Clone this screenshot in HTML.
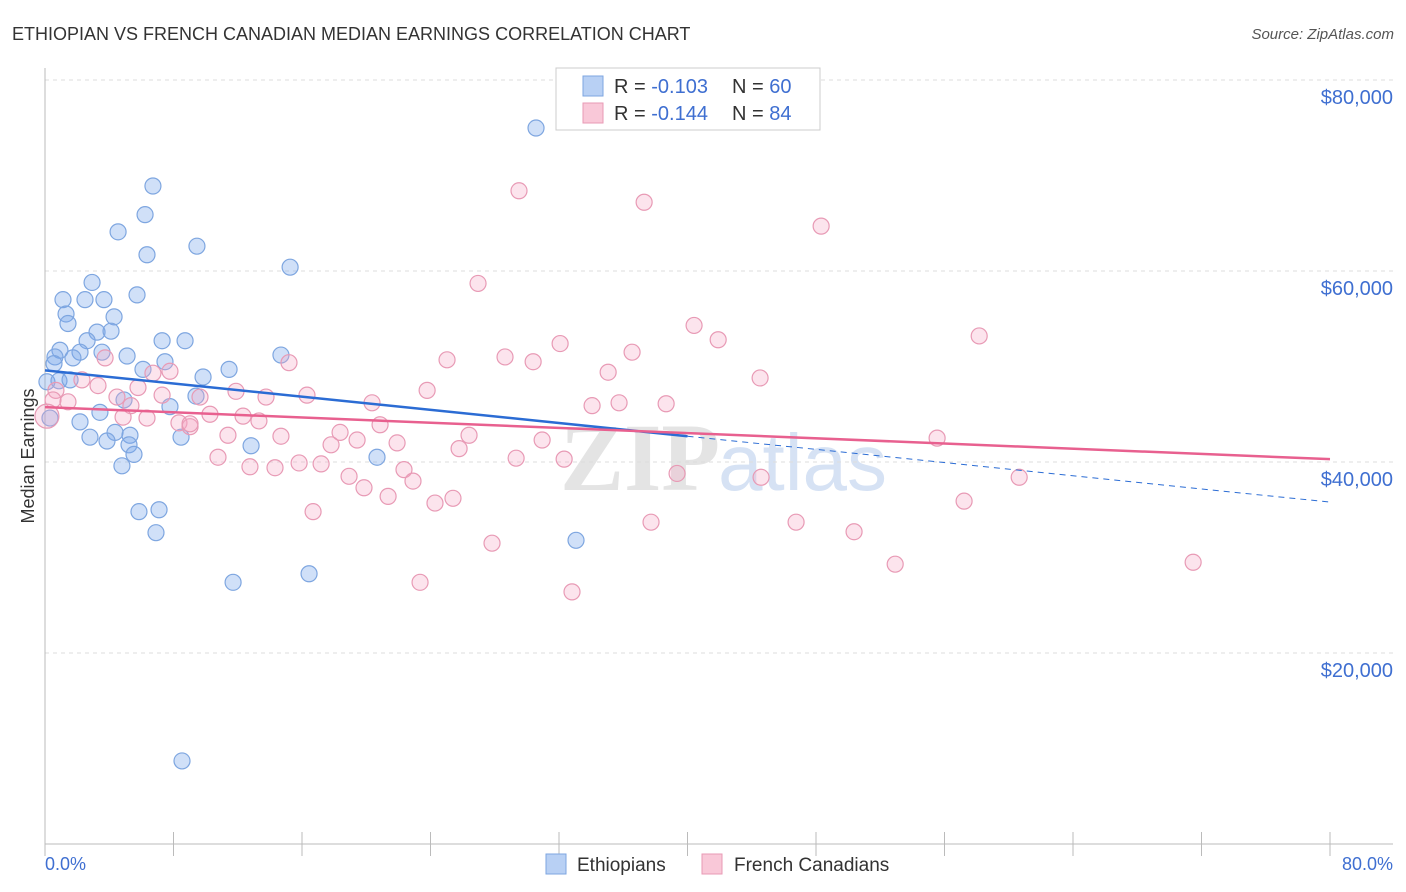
<!DOCTYPE html>
<html><head><meta charset="utf-8"><style>
body{margin:0;background:#fff;font-family:"Liberation Sans",sans-serif}
svg{display:block}
</style></head><body>
<svg id="chart" width="1406" height="892" xmlns="http://www.w3.org/2000/svg">
<text x="12" y="40" font-size="18" fill="#333">ETHIOPIAN VS FRENCH CANADIAN MEDIAN EARNINGS CORRELATION CHART</text>
<text x="1394" y="39" font-size="15" fill="#555" font-style="italic" text-anchor="end">Source: ZipAtlas.com</text>
<text x="720" y="490" font-size="96" font-weight="bold" fill="#e4e4e4" text-anchor="end" font-family="Liberation Serif, serif">ZIP</text>
<text x="718" y="490" font-size="80" fill="#d6e2f4">atlas</text>
<g id="grid"></g>
<g id="axes"></g>
<g id="pts"></g>
<g id="lines"></g>
<text transform="translate(34,456) rotate(-90)" font-size="18" fill="#333" text-anchor="middle">Median Earnings</text>
<text x="45" y="870" font-size="18" fill="#3f6fd1">0.0%</text>
<text x="1393" y="870" font-size="18" fill="#3f6fd1" text-anchor="end">80.0%</text>
<g>
<rect x="556" y="68" width="264" height="62" fill="#fff" stroke="#ccc"/>
<rect x="583" y="76" width="20" height="20" fill="#b8d0f4" stroke="#7ea6e0"/>
<rect x="583" y="103" width="20" height="20" fill="#f9c8d8" stroke="#e89ab5"/>
<text x="614" y="93" font-size="20" fill="#333">R = <tspan fill="#3f6fd1">-0.103</tspan></text>
<text x="732" y="93" font-size="20" fill="#333">N = <tspan fill="#3f6fd1">60</tspan></text>
<text x="614" y="120" font-size="20" fill="#333">R = <tspan fill="#3f6fd1">-0.144</tspan></text>
<text x="732" y="120" font-size="20" fill="#333">N = <tspan fill="#3f6fd1">84</tspan></text>
</g>
<g>
<rect x="546" y="854" width="20" height="20" fill="#b8d0f4" stroke="#7ea6e0"/>
<text x="577" y="871" font-size="19" fill="#333">Ethiopians</text>
<rect x="702" y="854" width="20" height="20" fill="#f9c8d8" stroke="#e89ab5"/>
<text x="734" y="871" font-size="19" fill="#333">French Canadians</text>
</g>
</svg>
<script>
const yTicks=[20000,40000,60000,80000];
const yTickLabels=["$20,000","$40,000","$60,000","$80,000"];
const xTicks=[0,8,16,24,32,40,48,56,64,72,80];
const ethX=[30.57,6.72,6.23,4.55,6.35,9.46,15.26,2.93,1.12,2.49,3.67,5.73,1.31,1.43,4.30,3.24,4.11,2.62,7.29,8.72,0.93,2.18,1.74,3.55,5.11,0.62,0.56,7.47,6.10,11.46,14.69,9.84,0.12,0.87,1.56,4.92,9.40,7.78,3.42,2.18,4.36,2.80,3.86,5.29,5.23,5.54,8.47,12.83,20.67,4.79,5.85,7.10,6.91,33.06,11.71,16.44,8.53,0.31];
const ethY=[74970,68900,65900,64100,61700,62600,60400,58800,57000,57000,57000,57500,55500,54500,55200,53600,53700,52700,52700,52700,51700,51500,50900,51500,51100,51000,50300,50500,49700,49700,51200,48900,48400,48500,48600,46500,46900,45800,45200,44200,43100,42600,42200,42800,41800,40800,42600,41700,40500,39600,34800,35000,32600,31800,27400,28300,8700,44600];
const frX=[29.51,37.30,48.32,26.96,40.41,58.16,41.91,32.07,36.55,28.64,30.39,25.03,35.06,44.52,15.19,3.74,6.72,7.78,2.30,3.30,0.68,5.79,11.89,13.76,16.31,23.79,7.29,9.65,0.50,1.43,4.48,5.35,20.36,34.06,35.74,38.67,4.86,6.35,8.34,10.27,12.33,13.32,9.03,11.39,14.69,20.86,18.37,17.81,19.43,21.92,26.40,30.95,25.78,55.54,10.77,12.76,14.32,15.82,17.19,22.35,29.33,32.32,39.35,18.93,19.86,22.91,21.36,24.28,25.40,44.58,60.65,57.22,16.69,37.73,46.76,50.37,27.83,52.93,71.48,23.35,32.81,0.12,9.03];
const frY=[68400,67200,64700,58700,54300,53200,52800,52400,51500,51000,50500,50700,49400,48800,50400,50900,49300,49500,48600,48000,47500,47800,47400,46800,47000,47500,47000,46800,46500,46300,46800,45900,46200,45900,46200,46100,44700,44600,44100,45000,44800,44300,43700,42800,42700,43900,43100,41800,42300,42000,42800,42300,41400,42500,40500,39500,39400,39900,39800,39200,40400,40300,38800,38500,37300,38000,36400,35700,36200,38400,38400,35900,34800,33700,33700,32700,31500,29300,29500,27400,26400,44800,44000];
const ethTrend=[49600,35800];
const frTrend=[45750,40300];
const ethMaxX=40;
const NS="http://www.w3.org/2000/svg";
const X0=45,X1=1330,Y0=844,Ypx=191/20000;
function sx(p){return X0+(p/80)*(X1-X0);}
function sy(v){return Y0-v*Ypx;}
function mk(tag,attrs,parent){const e=document.createElementNS(NS,tag);for(const k in attrs)e.setAttribute(k,attrs[k]);parent.appendChild(e);return e;}
const grid=document.getElementById('grid'),axes=document.getElementById('axes'),pts=document.getElementById('pts'),lines=document.getElementById('lines');
yTicks.forEach((t,i)=>{
 const l=mk('line',{x1:45,x2:1393,y1:sy(t),y2:sy(t),stroke:'#ddd','stroke-dasharray':'4 4'},grid);
 
 
 const tx=mk('text',{x:1393,y:sy(t)+24,'font-size':20,fill:'#3f6fd1','text-anchor':'end'},axes);
 tx.textContent=yTickLabels[i];
 
 
});
const ya=mk('line',{x1:45,x2:45,y1:68,y2:844,stroke:'#bbb'},axes);


const xa=mk('line',{x1:45,x2:1393,y1:844,y2:844,stroke:'#bbb'},axes);


xTicks.forEach(t=>{
 const l=mk('line',{x1:sx(t),x2:sx(t),y1:832,y2:856,stroke:'#bbb'},axes);
 
 
});
ethX.forEach((x,i)=>{
 const c=mk('circle',{cx:sx(x),cy:sy(ethY[i]),r:8,fill:'rgba(120,165,235,0.35)',stroke:'#7ea6e0','stroke-width':1.2},pts);
 
 
});
frX.forEach((x,i)=>{
 const c=mk('circle',{cx:sx(x),cy:sy(frY[i]),r:i==frX.length-2?12:8,fill:'rgba(245,165,195,0.3)',stroke:'#e89ab5','stroke-width':1.2},pts);
 
 
});
function tv(tr,p){return tr[0]+(tr[1]-tr[0])*p/80;}
const b1=mk('line',{x1:sx(0),y1:sy(tv(ethTrend,0)),x2:sx(ethMaxX),y2:sy(tv(ethTrend,ethMaxX)),stroke:'#2b6cd4','stroke-width':2.5},lines);


const b2=mk('line',{x1:sx(ethMaxX),y1:sy(tv(ethTrend,ethMaxX)),x2:sx(80),y2:sy(tv(ethTrend,80)),stroke:'#2b6cd4','stroke-width':1,'stroke-dasharray':'6 5'},lines);


const p1=mk('line',{x1:sx(0),y1:sy(tv(frTrend,0)),x2:sx(80),y2:sy(tv(frTrend,80)),stroke:'#e8608f','stroke-width':2.5},lines);


</script>
</body></html>
